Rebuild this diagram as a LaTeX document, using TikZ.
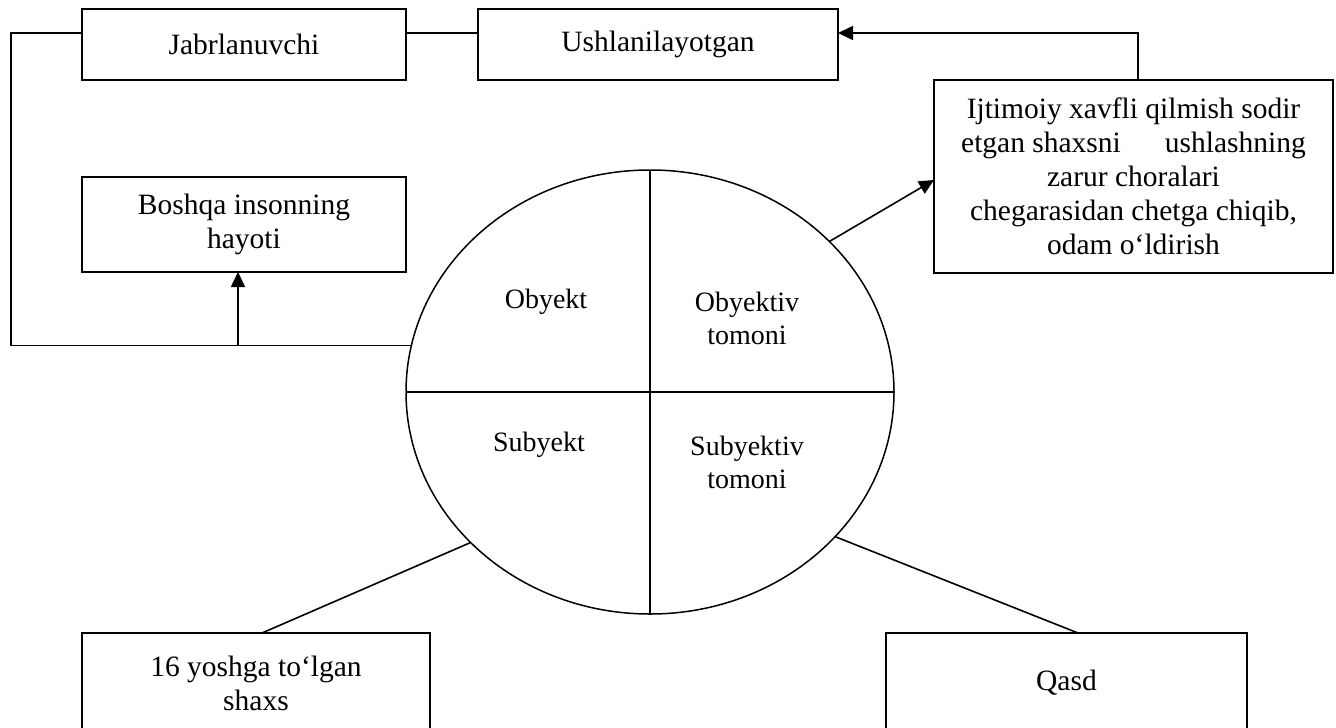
\documentclass[tikz,border=0pt]{standalone}
\usepackage{fontspec}
\setmainfont{Liberation Serif}
\usetikzlibrary{shapes.geometric,arrows.meta,calc}
\begin{document}
\begin{tikzpicture}[x=1pt,y=-1pt,
  box/.style={draw,line width=1.6pt,rectangle,inner sep=0pt,outer sep=0pt,align=center,font=\fontsize{29.5}{34}\selectfont},
  lbl/.style={inner sep=0pt,align=center,font=\fontsize{28}{33.5}\selectfont},
  conn/.style={line width=1.6pt},
  arr/.style={line width=1.6pt,-{Triangle[length=15pt,width=14pt]}},
]
\clip (0,0) rectangle (1336,728);
\fill[white] (0,0) rectangle (1336,728);
\node[box,minimum width=324pt,minimum height=71pt] (jab) at (244,44.5) {Jabrlanuvchi};
\node[box,minimum width=360pt,minimum height=71pt] (ush) at (658,44.5) {Ushlanilayotgan};
\node[box,minimum width=324pt,minimum height=95pt] (bosh) at (244,224.5) {Boshqa insonning\\hayoti};
\node[box,minimum width=399pt,minimum height=193pt] (ijt) at (1133.5,176.5) {Ijtimoiy xavfli qilmish sodir\\etgan shaxsni\hspace{44pt}ushlashning\\zarur choralari\\chegarasidan chetga chiqib,\\odam o‘ldirish};
\node[box,minimum width=348pt,minimum height=100pt] (yosh) at (256,683) {16 yoshga to‘lgan\\shaxs};
\node[box,minimum width=361pt,minimum height=100pt] (qasd) at (1066.5,683) {Qasd};
\node[draw,ellipse,line width=1.5pt,inner sep=0pt,outer sep=0pt,minimum width=488pt,minimum height=444pt] (ell) at (650,392) {};
\draw[line width=1.5pt] (ell.north) -- (ell.south);
\draw[line width=1.5pt] (ell.west) -- (ell.east);
\node[lbl] (obj) at (546,302) {Obyekt};
\node[lbl] (objt) at (747,318.5) {Obyektiv\\tomoni};
\node[lbl] (sub) at (539,445) {Subyekt};
\node[lbl] (subt) at (747,462.5) {Subyektiv\\tomoni};
% connectors
\draw[conn] ([yshift=11.5pt]jab.east) -- ([yshift=11.5pt]ush.west);
\coordinate (lcorner) at (11,200);
\draw[conn] ([yshift=11.5pt]jab.west) -| (lcorner) |- (ell.169);
\coordinate (bs) at ([xshift=-6pt]bosh.south);
\draw[arr] (bs |- ell.169) -- (bs);
\coordinate (it) at ([xshift=4.5pt]ijt.north);
\draw[arr] (it) |- ([yshift=11.5pt]ush.east);
\draw[arr] (ell.40) -- ([yshift=-3.5pt]ijt.west);
\draw[conn] (ell.220) -- ([xshift=6pt]yosh.north);
\draw[conn] (ell.322) -- ([xshift=11.5pt]qasd.north);
\end{tikzpicture}
\end{document}
